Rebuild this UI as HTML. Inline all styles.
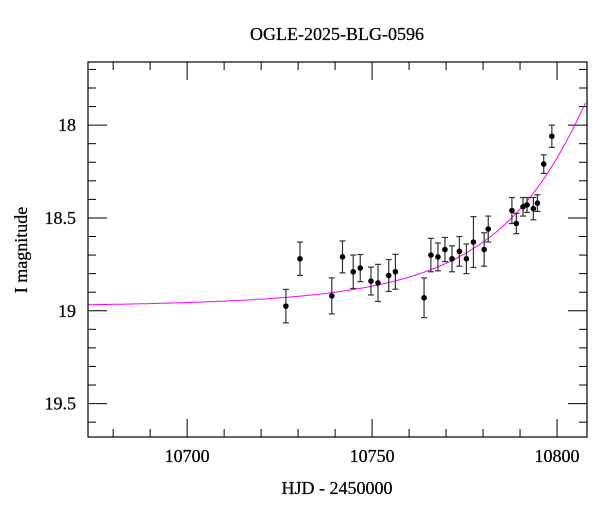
<!DOCTYPE html>
<html><head><meta charset="utf-8"><style>
body{margin:0;background:#fff}
svg{display:block;font-family:"Liberation Serif",serif}
svg text{stroke:#000;stroke-width:0.25}
</style></head><body>
<svg id="c" width="600" height="512">
<text x="337" y="40" text-anchor="middle" font-size="18">OGLE-2025-BLG-0596</text>
<text x="337" y="494" text-anchor="middle" font-size="18">HJD - 2450000</text>
<text transform="translate(27,250) rotate(-90)" text-anchor="middle" font-size="18">I magnitude</text>
<g id="axes"></g><g id="model"></g><g id="pts"></g>
<rect x="88" y="62" width="499" height="375" fill="none" stroke="#000" stroke-width="1.2"/>
</svg>
<script>
const times=[10726.7,10730.5,10739.1,10742.0,10744.9,10746.8,10749.7,10751.6,10754.5,10756.3,10764.05,10765.9,10767.8,10769.7,10771.6,10773.6,10775.5,10777.4,10780.3,10781.4,10787.8,10789.0,10790.8,10791.9,10793.6,10794.7,10796.4,10798.6];
const mags=[18.975,18.72,18.92,18.71,18.79,18.77,18.84,18.85,18.81,18.79,18.93,18.70,18.71,18.67,18.72,18.68,18.72,18.63,18.67,18.56,18.46,18.53,18.44,18.43,18.45,18.42,18.21,18.06];
const errs=[0.09,0.09,0.097,0.086,0.09,0.073,0.075,0.1,0.086,0.094,0.107,0.09,0.075,0.065,0.07,0.08,0.08,0.137,0.09,0.07,0.07,0.055,0.05,0.04,0.06,0.045,0.05,0.06];
const xTicks=[10700,10750,10800];
const yTicks=[18,18.5,19,19.5];
const model={t0:10820,tE:43.8,u0:0.26,base:18.98};
const X0=10673.2,X1=10808.1,Y0=17.66,Y1=19.68,L=88,R=587,T=62,B=437;
const sx=d=>L+(d-X0)/(X1-X0)*(R-L);
const sy=m=>T+(m-Y0)/(Y1-Y0)*(B-T);
const NS='http://www.w3.org/2000/svg';
function mk(tag,attrs,parent){const e=document.createElementNS(NS,tag);for(const k in attrs)e.setAttribute(k,attrs[k]);parent.appendChild(e);return e;}
const ax=document.getElementById('axes');
for(let d=10680;d<=10800;d+=10){const maj=xTicks.includes(d);const len=maj?18:8;const x=sx(d);
 const t1=mk('line',{x1:x,x2:x,y1:B,y2:B-len,stroke:'#000'},ax);
 
 
 const t2=mk('line',{x1:x,x2:x,y1:T,y2:T+len,stroke:'#000'},ax);
 
 }
xTicks.forEach(d=>{const t=mk('text',{x:sx(d),y:462,'text-anchor':'middle','font-size':'18'},ax);t.textContent=d;
 
 });
for(let i=0;i<=20;i++){const m=17.7+i*0.1;if(m>Y1)break;const maj=yTicks.some(v=>Math.abs(v-m)<1e-6);const len=maj?19:8;const y=sy(m);
 const t1=mk('line',{x1:L,x2:L+len,y1:y,y2:y,stroke:'#000'},ax);
 
 
 const t2=mk('line',{x1:R,x2:R-len,y1:y,y2:y,stroke:'#000'},ax);
 
 }
yTicks.forEach(m=>{const t=mk('text',{x:76,y:sy(m)+6,'text-anchor':'end','font-size':'18'},ax);t.textContent=m;
 
 });
function modelMag(t){const tau=(t-model.t0)/model.tE;const u=Math.sqrt(model.u0*model.u0+tau*tau);const A=(u*u+2)/(u*Math.sqrt(u*u+4));return model.base-2.5*Math.log10(A);}
let d='';for(let t=X0;t<=X1;t+=0.5){d+=(d?'L':'M')+sx(t).toFixed(1)+','+sy(modelMag(t)).toFixed(1);}
const mp=mk('path',{d:d,fill:'none',stroke:'#ff00ff','stroke-width':1},document.getElementById('model'));


const pg=document.getElementById('pts');
times.forEach((t,i)=>{const x=sx(t),y=sy(mags[i]),y1=sy(mags[i]-errs[i]),y2=sy(mags[i]+errs[i]);
 const g=mk('g',{},pg);
 
 
 mk('line',{x1:x,x2:x,y1:y1,y2:y2,stroke:'#333','stroke-width':1.2},g);
 mk('line',{x1:x-3,x2:x+3,y1:y1,y2:y1,stroke:'#333','stroke-width':1.2},g);
 mk('line',{x1:x-3,x2:x+3,y1:y2,y2:y2,stroke:'#333','stroke-width':1.2},g);
 mk('circle',{cx:x,cy:y,r:2.8,fill:'#000'},g);});
</script>
</body></html>
